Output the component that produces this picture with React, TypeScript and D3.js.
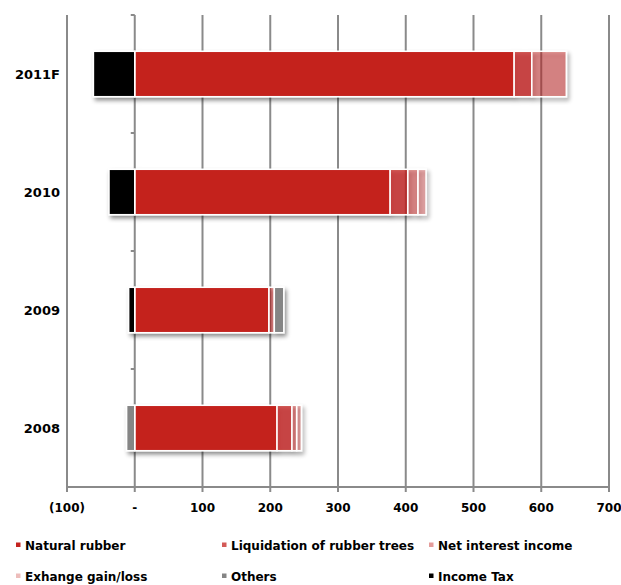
import React from "react";
import * as d3 from "d3";

const categories = ["2011F", "2010", "2009", "2008"];
const seriesNames = [
  "Natural rubber",
  "Liquidation of rubber trees",
  "Net interest income",
  "Exhange gain/loss",
  "Others",
  "Income Tax",
];
const naturalRubber = [560, 377, 198, 210];
const liquidation = [26, 26, 0, 22];
const netInterest = [51, 15, 8, 7];
const exchange = [0, 12, 0, 7];
const others = [0, 0, 14, -12];
const incomeTax = [-61, -38, -9, 0];
const xTicks = [-100, 0, 100, 200, 300, 400, 500, 600, 700];
const xTickLabels = ["(100)", "-", "100", "200", "300", "400", "500", "600", "700"];

const seriesValues = [naturalRubber, liquidation, netInterest, exchange, others, incomeTax];
const RED = "#c4231f";
const seriesFill = [RED, RED, RED, RED, "#858585", "#000000"];
const seriesOpacity = [1, 0.75, 0.45, 0.3, 1, 1];

const W = 621;
const H = 585;
const FONT = "'DejaVu Sans', Verdana, sans-serif";

export default function App() {
  const left = 67, right = 609, top = 15, bottom = 487;
  const x = d3.scaleLinear().domain([-100, 700]).range([left, right]);
  const y = d3.scaleBand<string>().domain(categories).range([top, bottom]).padding(0);
  const barH = y.bandwidth() * 0.385;

  const rows = categories.map((c, i) => {
    const r: any = { cat: c };
    seriesNames.forEach((s, j) => (r[s] = seriesValues[j][i]));
    return r;
  });
  const stacked = d3.stack<any>().keys(seriesNames).offset(d3.stackOffsetDiverging)(rows);

  const gridColor = "#8a8a8a";
  const x0 = x(0);

  return (
    <svg width={W} height={H} style={{ position: "absolute", left: 0, top: 0, background: "#fff" }}>
      <defs>
        <filter id="shadow" x="-10%" y="-30%" width="130%" height="170%">
          <feDropShadow dx="2" dy="3" stdDeviation="2.2" floodColor="#000" floodOpacity="0.45" />
        </filter>
      </defs>
      {xTicks.map((t) => (
        <line key={"g" + t} x1={x(t)} x2={x(t)} y1={top} y2={bottom + 5} stroke={gridColor} strokeWidth={2} />
      ))}
      <line x1={left} x2={right} y1={bottom} y2={bottom} stroke={gridColor} strokeWidth={2} />
      {[top, ...categories.map((c) => (y(c) as number) + y.bandwidth())].map((v, i) => (
        <line key={"ct" + i} x1={x0 - 4} x2={x0} y1={v} y2={v} stroke={gridColor} strokeWidth={2} />
      ))}
      {categories.map((c, ci) => (
        <g key={"bar" + c} filter="url(#shadow)">
          {stacked.map((s, si) => {
            const d = s[ci];
            const a = Math.min(d[0], d[1]);
            const b = Math.max(d[0], d[1]);
            if (b - a <= 0) return null;
            return (
              <rect
                key={si}
                x={x(a)}
                y={(y(c) as number) + (y.bandwidth() - barH) / 2}
                width={x(b) - x(a)}
                height={barH}
                fill={seriesFill[si]}
                fillOpacity={seriesOpacity[si]}
                stroke="#fff"
                strokeWidth={1.5}
              />
            );
          })}
        </g>
      ))}
      {categories.map((c) => (
        <text
          key={"cl" + c}
          x={60}
          y={(y(c) as number) + y.bandwidth() / 2}
          textAnchor="end"
          dominantBaseline="central"
          fontFamily={FONT}
          fontWeight="bold"
          fontSize={13}
          fill="#000"
        >
          {c}
        </text>
      ))}
      {xTicks.map((t, i) => (
        <text
          key={"xl" + t}
          x={x(t)}
          y={512}
          textAnchor="middle"
          fontFamily={FONT}
          fontWeight="bold"
          fontSize={12}
          fill="#000"
        >
          {xTickLabels[i]}
        </text>
      ))}
      {seriesNames.map((s, i) => {
        const col = i % 3;
        const row = Math.floor(i / 3);
        const lx = [16, 222, 429][col];
        const ly = [550, 581][row];
        return (
          <g key={"lg" + s}>
            <rect x={lx} y={ly - 7.5} width={4.5} height={4.5} fill={seriesFill[i]} fillOpacity={seriesOpacity[i]} />
            <text x={lx + 9} y={ly} fontFamily={FONT} fontWeight="bold" fontSize={12} fill="#000">
              {s}
            </text>
          </g>
        );
      })}
    </svg>
  );
}
